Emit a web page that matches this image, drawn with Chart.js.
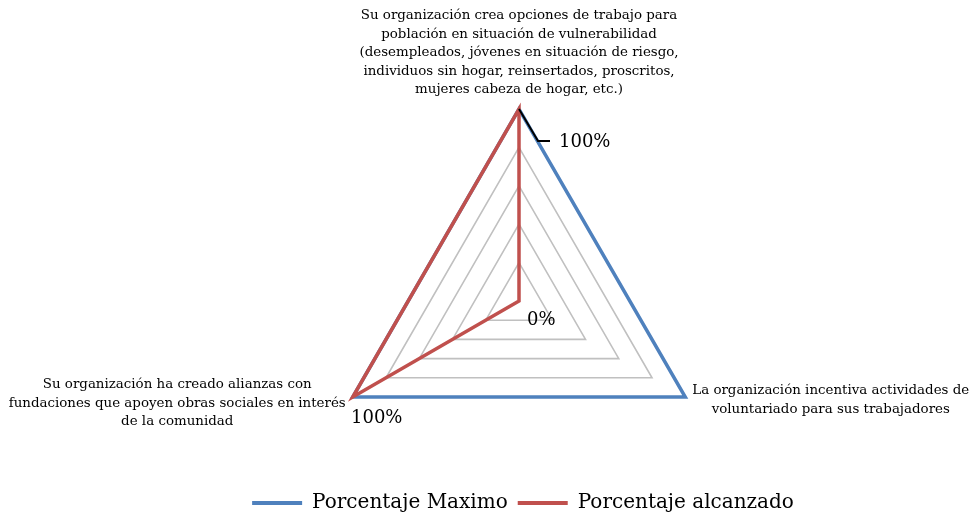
<!DOCTYPE html>
<html lang="es">
<head>
<meta charset="UTF-8">
<title>Porcentaje alcanzado</title>
<style>
  body { margin: 0; background: #ffffff; }
  #wrap { width: 969px; height: 518px; }
</style>
</head>
<body>
<div id="wrap"><canvas id="radar" width="969" height="518"></canvas></div>

<script src="https://cdn.jsdelivr.net/npm/chart.js"></script>
<script>
  // Criterios (one entry per text line)
  const criterios = [
    ["Su organización crea opciones de trabajo para",
     "población en situación de vulnerabilidad",
     "(desempleados, jóvenes en situación de riesgo,",
     "individuos sin hogar, reinsertados, proscritos,",
     "mujeres cabeza de hogar, etc.)"],
    ["La organización incentiva actividades de",
     "voluntariado para sus trabajadores"],
    ["Su organización ha creado alianzas con",
     "fundaciones que apoyen obras sociales en interés",
     "de la comunidad"]
  ];

  const porcentajeMaximo = [100, 100, 100];
  const porcentajeAlcanzado = [100, 0, 100];

  // radial scale: 0% .. 100% with a ring every 20%
  const escalaMin = 0;
  const escalaMax = 100;
  const escalaPaso = 20;

  const AZUL = "#4f81bd";
  const ROJO = "#c0504d";
  const FUENTE = '"DejaVu Serif", serif';

  // place the radar independently of the legend box
  const centroRadar = {
    id: "centroRadar",
    afterLayout(chart) {
      const r = chart.scales.r;
      r.xCenter = 519;
      r.yCenter = 301;
      r.drawingArea = 192;
    }
  };

  // criterio texts (centered lines) and the data labels of the red series
  const etiquetas = {
    id: "etiquetas",
    afterDatasetsDraw(chart) {
      const ctx = chart.ctx;
      const r = chart.scales.r;
      ctx.save();
      ctx.fillStyle = "#000";
      ctx.textBaseline = "middle";
      ctx.textAlign = "center";
      ctx.font = "13.4px " + FUENTE;
      const lh = 18.5;
      criterios.forEach((lines, i) => {
        const p = r.getPointPosition(i, r.drawingArea);
        const w = Math.max(...lines.map(l => ctx.measureText(l).width));
        let cx, y0;
        if (i === 0) {
          cx = p.x;
          y0 = p.y - 19 - (lines.length - 1) * lh;
        } else if (i === 1) {
          cx = p.x + 7 + w / 2;
          y0 = p.y - 6;
        } else {
          cx = p.x - 7 - w / 2;
          y0 = p.y - 12;
        }
        lines.forEach((l, k) => ctx.fillText(l, cx, y0 + k * lh));
      });

      const meta = chart.getDatasetMeta(1);
      ctx.font = "18px " + FUENTE;
      meta.data.forEach((pt, i) => {
        const texto = porcentajeAlcanzado[i] + "%";
        if (i === 0) {
          // leader line
          ctx.strokeStyle = "#000";
          ctx.lineWidth = 2;
          ctx.beginPath();
          ctx.moveTo(pt.x, pt.y);
          ctx.lineTo(pt.x + 19, pt.y + 32);
          ctx.lineTo(pt.x + 31, pt.y + 32);
          ctx.stroke();
          ctx.textAlign = "left";
          ctx.fillText(texto, pt.x + 40, pt.y + 33);
        } else if (i === 1) {
          ctx.textAlign = "left";
          ctx.fillText(texto, pt.x + 8, pt.y + 19);
        } else {
          ctx.textAlign = "center";
          ctx.fillText(texto, pt.x + 24, pt.y + 21);
        }
      });
      ctx.restore();
    }
  };

  new Chart(document.getElementById("radar"), {
    type: "radar",
    data: {
      labels: criterios,
      datasets: [
        {
          label: "Porcentaje Maximo",
          data: porcentajeMaximo,
          borderColor: AZUL,
          backgroundColor: AZUL,
          borderWidth: 3.5,
          fill: false,
          pointRadius: 0,
          order: 1,
          clip: false
        },
        {
          label: "Porcentaje alcanzado",
          data: porcentajeAlcanzado,
          borderColor: ROJO,
          backgroundColor: ROJO,
          borderWidth: 3.5,
          fill: false,
          pointRadius: 0,
          order: 0,   // red on top of blue
          clip: false
        }
      ]
    },
    options: {
      responsive: false,
      animation: false,
      layout: { padding: { left: 77, right: 0, top: 0, bottom: -5 } },
      scales: {
        r: {
          min: escalaMin,
          max: escalaMax,
          ticks: { stepSize: escalaPaso, display: false },
          grid: { color: "#c0c0c0", lineWidth: 1.6 },
          angleLines: { display: false },
          pointLabels: { display: false }
        }
      },
      plugins: {
        tooltip: { enabled: false },
        legend: {
          position: "bottom",
          labels: {
            color: "#000",
            font: { family: FUENTE, size: 20 },
            boxWidth: 50,
            boxHeight: 4,
            padding: 10,
            sort: (a, b) => a.datasetIndex - b.datasetIndex,
            generateLabels(chart) {
              return Chart.defaults.plugins.legend.labels.generateLabels(chart)
                .map(item => Object.assign(item, { lineWidth: 0, fillStyle: item.strokeStyle }));
            }
          }
        }
      }
    },
    plugins: [centroRadar, etiquetas]
  });
</script>
</body>
</html>
